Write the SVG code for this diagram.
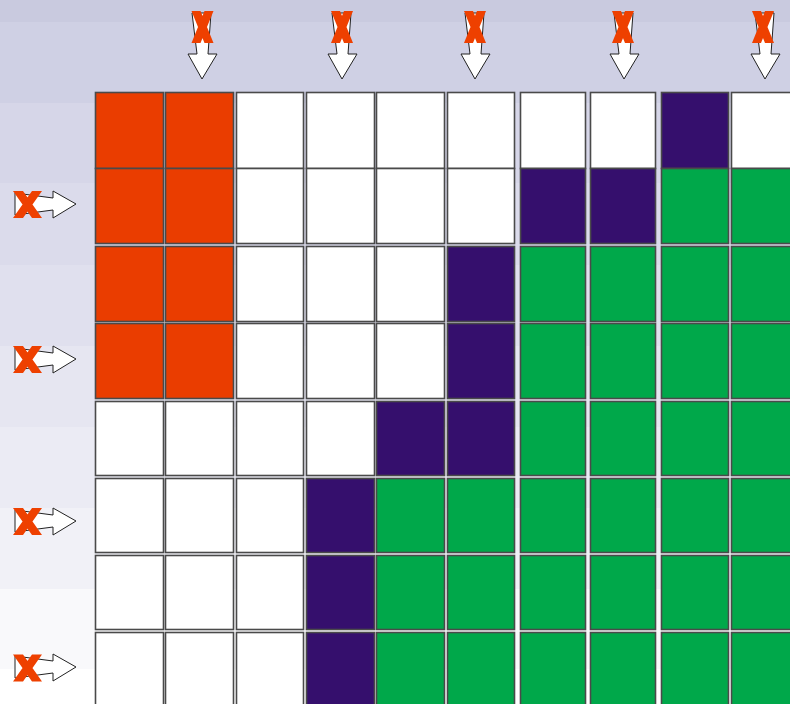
<svg xmlns="http://www.w3.org/2000/svg" xmlns:xlink="http://www.w3.org/1999/xlink" width="790" height="704" viewBox="0 0 790 704">
<style>
.cell{stroke:#4a4a4a;stroke-width:1.6}
.o{fill:#ea3d00}
.w{fill:#ffffff}
.p{fill:#350f6d}
.g{fill:#00a84a}
.arrow{fill:#ffffff;stroke:#222;stroke-width:1}
.x{fill:#ee4000}
</style>
<defs>
<path id="down" class="arrow" d="M-10,-66 L9,-66 L6,-25 L15,-25 L0,0 L-14,-25 L-5,-25 Z"/>
<path id="right" class="arrow" d="M-61,-11 L-23,-6 L-23,-13 L0,0 L-23,14 L-23,6 L-61,11 Z"/>
<path id="xtop" class="x" d="M-11,-16 L-2,-16 L11,16 L2,16 Z M2,-16 L11,-16 L-2,16 L-11,16 Z"/>
<path id="xleft" class="x" d="M-14.5,-13.5 L-4.5,-13.5 L14.5,13.5 L4.5,13.5 Z M4.5,-13.5 L14.5,-13.5 L-4.5,13.5 L-14.5,13.5 Z"/>
</defs>
<g id="background">
<rect x="0" y="0" width="790" height="22" fill="#c9cadf"/>
<rect x="0" y="22" width="790" height="81" fill="#cfd0e4"/>
<rect x="0" y="103" width="790" height="80" fill="#d6d6e8"/>
<rect x="0" y="183" width="790" height="82" fill="#dbdbeb"/>
<rect x="0" y="265" width="790" height="81" fill="#e0e0ee"/>
<rect x="0" y="346" width="790" height="81" fill="#e6e6f1"/>
<rect x="0" y="427" width="790" height="81" fill="#ebebf4"/>
<rect x="0" y="508" width="790" height="81" fill="#f1f1f7"/>
<rect x="0" y="589" width="790" height="80" fill="#f9f9fb"/>
<rect x="0" y="669" width="790" height="35" fill="#ffffff"/>
</g>
<g id="grid">
<g id="r1c1"><rect class="cell o" x="95.5" y="92.5" width="68" height="76"/></g>
<g id="r1c2"><rect class="cell o" x="165.5" y="92.5" width="68" height="76"/></g>
<g id="r1c3"><rect class="cell w" x="236.5" y="92.5" width="67" height="76"/></g>
<g id="r1c4"><rect class="cell w" x="306.5" y="92.5" width="68" height="76"/></g>
<g id="r1c5"><rect class="cell w" x="376.5" y="92.5" width="68" height="76"/></g>
<g id="r1c6"><rect class="cell w" x="447.5" y="92.5" width="67" height="76"/></g>
<g id="r1c7"><rect class="cell w" x="520.5" y="92.5" width="65" height="76"/></g>
<g id="r1c8"><rect class="cell w" x="590.5" y="92.5" width="65" height="76"/></g>
<g id="r1c9"><rect class="cell p" x="661.5" y="92.5" width="67" height="76"/></g>
<g id="r1c10"><rect class="cell w" x="731.5" y="92.5" width="68" height="76"/></g>

<g id="r2c1"><rect class="cell o" x="95.5" y="168.5" width="68" height="75"/></g>
<g id="r2c2"><rect class="cell o" x="165.5" y="168.5" width="68" height="75"/></g>
<g id="r2c3"><rect class="cell w" x="236.5" y="168.5" width="67" height="75"/></g>
<g id="r2c4"><rect class="cell w" x="306.5" y="168.5" width="68" height="75"/></g>
<g id="r2c5"><rect class="cell w" x="376.5" y="168.5" width="68" height="75"/></g>
<g id="r2c6"><rect class="cell w" x="447.5" y="168.5" width="67" height="75"/></g>
<g id="r2c7"><rect class="cell p" x="520.5" y="168.5" width="65" height="75"/></g>
<g id="r2c8"><rect class="cell p" x="590.5" y="168.5" width="65" height="75"/></g>
<g id="r2c9"><rect class="cell g" x="661.5" y="168.5" width="67" height="75"/></g>
<g id="r2c10"><rect class="cell g" x="731.5" y="168.5" width="68" height="75"/></g>

<g id="r3c1"><rect class="cell o" x="95.5" y="246.5" width="68" height="75"/></g>
<g id="r3c2"><rect class="cell o" x="165.5" y="246.5" width="68" height="75"/></g>
<g id="r3c3"><rect class="cell w" x="236.5" y="246.5" width="67" height="75"/></g>
<g id="r3c4"><rect class="cell w" x="306.5" y="246.5" width="68" height="75"/></g>
<g id="r3c5"><rect class="cell w" x="376.5" y="246.5" width="68" height="75"/></g>
<g id="r3c6"><rect class="cell p" x="447.5" y="246.5" width="67" height="75"/></g>
<g id="r3c7"><rect class="cell g" x="520.5" y="246.5" width="65" height="75"/></g>
<g id="r3c8"><rect class="cell g" x="590.5" y="246.5" width="65" height="75"/></g>
<g id="r3c9"><rect class="cell g" x="661.5" y="246.5" width="67" height="75"/></g>
<g id="r3c10"><rect class="cell g" x="731.5" y="246.5" width="68" height="75"/></g>

<g id="r4c1"><rect class="cell o" x="95.5" y="323.5" width="68" height="75"/></g>
<g id="r4c2"><rect class="cell o" x="165.5" y="323.5" width="68" height="75"/></g>
<g id="r4c3"><rect class="cell w" x="236.5" y="323.5" width="67" height="75"/></g>
<g id="r4c4"><rect class="cell w" x="306.5" y="323.5" width="68" height="75"/></g>
<g id="r4c5"><rect class="cell w" x="376.5" y="323.5" width="68" height="75"/></g>
<g id="r4c6"><rect class="cell p" x="447.5" y="323.5" width="67" height="75"/></g>
<g id="r4c7"><rect class="cell g" x="520.5" y="323.5" width="65" height="75"/></g>
<g id="r4c8"><rect class="cell g" x="590.5" y="323.5" width="65" height="75"/></g>
<g id="r4c9"><rect class="cell g" x="661.5" y="323.5" width="67" height="75"/></g>
<g id="r4c10"><rect class="cell g" x="731.5" y="323.5" width="68" height="75"/></g>

<g id="r5c1"><rect class="cell w" x="95.5" y="401.5" width="68" height="74"/></g>
<g id="r5c2"><rect class="cell w" x="165.5" y="401.5" width="68" height="74"/></g>
<g id="r5c3"><rect class="cell w" x="236.5" y="401.5" width="67" height="74"/></g>
<g id="r5c4"><rect class="cell w" x="306.5" y="401.5" width="68" height="74"/></g>
<g id="r5c5"><rect class="cell p" x="376.5" y="401.5" width="68" height="74"/></g>
<g id="r5c6"><rect class="cell p" x="447.5" y="401.5" width="67" height="74"/></g>
<g id="r5c7"><rect class="cell g" x="520.5" y="401.5" width="65" height="74"/></g>
<g id="r5c8"><rect class="cell g" x="590.5" y="401.5" width="65" height="74"/></g>
<g id="r5c9"><rect class="cell g" x="661.5" y="401.5" width="67" height="74"/></g>
<g id="r5c10"><rect class="cell g" x="731.5" y="401.5" width="68" height="74"/></g>

<g id="r6c1"><rect class="cell w" x="95.5" y="478.5" width="68" height="74"/></g>
<g id="r6c2"><rect class="cell w" x="165.5" y="478.5" width="68" height="74"/></g>
<g id="r6c3"><rect class="cell w" x="236.5" y="478.5" width="67" height="74"/></g>
<g id="r6c4"><rect class="cell p" x="306.5" y="478.5" width="68" height="74"/></g>
<g id="r6c5"><rect class="cell g" x="376.5" y="478.5" width="68" height="74"/></g>
<g id="r6c6"><rect class="cell g" x="447.5" y="478.5" width="67" height="74"/></g>
<g id="r6c7"><rect class="cell g" x="520.5" y="478.5" width="65" height="74"/></g>
<g id="r6c8"><rect class="cell g" x="590.5" y="478.5" width="65" height="74"/></g>
<g id="r6c9"><rect class="cell g" x="661.5" y="478.5" width="67" height="74"/></g>
<g id="r6c10"><rect class="cell g" x="731.5" y="478.5" width="68" height="74"/></g>

<g id="r7c1"><rect class="cell w" x="95.5" y="555.5" width="68" height="74"/></g>
<g id="r7c2"><rect class="cell w" x="165.5" y="555.5" width="68" height="74"/></g>
<g id="r7c3"><rect class="cell w" x="236.5" y="555.5" width="67" height="74"/></g>
<g id="r7c4"><rect class="cell p" x="306.5" y="555.5" width="68" height="74"/></g>
<g id="r7c5"><rect class="cell g" x="376.5" y="555.5" width="68" height="74"/></g>
<g id="r7c6"><rect class="cell g" x="447.5" y="555.5" width="67" height="74"/></g>
<g id="r7c7"><rect class="cell g" x="520.5" y="555.5" width="65" height="74"/></g>
<g id="r7c8"><rect class="cell g" x="590.5" y="555.5" width="65" height="74"/></g>
<g id="r7c9"><rect class="cell g" x="661.5" y="555.5" width="67" height="74"/></g>
<g id="r7c10"><rect class="cell g" x="731.5" y="555.5" width="68" height="74"/></g>

<g id="r8c1"><rect class="cell w" x="95.5" y="632.5" width="68" height="80"/></g>
<g id="r8c2"><rect class="cell w" x="165.5" y="632.5" width="68" height="80"/></g>
<g id="r8c3"><rect class="cell w" x="236.5" y="632.5" width="67" height="80"/></g>
<g id="r8c4"><rect class="cell p" x="306.5" y="632.5" width="68" height="80"/></g>
<g id="r8c5"><rect class="cell g" x="376.5" y="632.5" width="68" height="80"/></g>
<g id="r8c6"><rect class="cell g" x="447.5" y="632.5" width="67" height="80"/></g>
<g id="r8c7"><rect class="cell g" x="520.5" y="632.5" width="65" height="80"/></g>
<g id="r8c8"><rect class="cell g" x="590.5" y="632.5" width="65" height="80"/></g>
<g id="r8c9"><rect class="cell g" x="661.5" y="632.5" width="67" height="80"/></g>
<g id="r8c10"><rect class="cell g" x="731.5" y="632.5" width="68" height="80"/></g>
</g>
<g id="connectors">
<g id="top-arrow-1"><use xlink:href="#down" href="#down" x="202" y="79"/><use xlink:href="#xtop" href="#xtop" x="202.5" y="27"/></g>
<g id="top-arrow-2"><use xlink:href="#down" href="#down" x="342" y="79"/><use xlink:href="#xtop" href="#xtop" x="342" y="27"/></g>
<g id="top-arrow-3"><use xlink:href="#down" href="#down" x="475" y="79"/><use xlink:href="#xtop" href="#xtop" x="475" y="27"/></g>
<g id="top-arrow-4"><use xlink:href="#down" href="#down" x="624" y="79"/><use xlink:href="#xtop" href="#xtop" x="623" y="27"/></g>
<g id="top-arrow-5"><use xlink:href="#down" href="#down" x="765" y="79"/><use xlink:href="#xtop" href="#xtop" x="763" y="27"/></g>
<g id="left-arrow-1"><use xlink:href="#right" href="#right" x="76" y="204"/><use xlink:href="#xleft" href="#xleft" x="27.5" y="204.5"/></g>
<g id="left-arrow-2"><use xlink:href="#right" href="#right" x="76" y="359"/><use xlink:href="#xleft" href="#xleft" x="27.5" y="359.5"/></g>
<g id="left-arrow-3"><use xlink:href="#right" href="#right" x="76" y="521"/><use xlink:href="#xleft" href="#xleft" x="27.5" y="521.5"/></g>
<g id="left-arrow-4"><use xlink:href="#right" href="#right" x="76" y="667"/><use xlink:href="#xleft" href="#xleft" x="27.5" y="668"/></g>
</g>
</svg>
